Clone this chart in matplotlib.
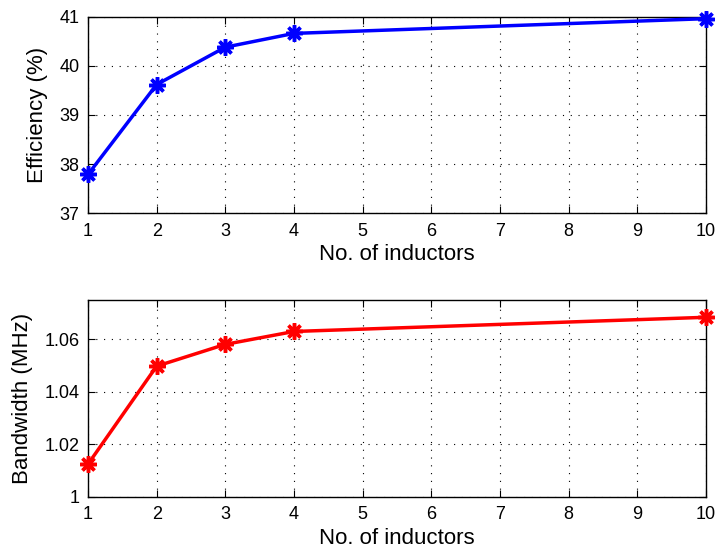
import matplotlib
matplotlib.use("Agg")
import matplotlib.pyplot as plt

inductors = [1, 2, 3, 4, 10]
efficiency = [37.79, 39.62, 40.38, 40.66, 40.96]
bandwidth = [1.0124, 1.0497, 1.0580, 1.0629, 1.0683]
x_ticks = [1, 2, 3, 4, 5, 6, 7, 8, 9, 10]
eff_ticks = [37, 38, 39, 40, 41]
bw_ticks = [1, 1.02, 1.04, 1.06]
bw_tick_labels = ["1", "1.02", "1.04", "1.06"]

plt.rcParams['font.family'] = ['Liberation Sans', 'DejaVu Sans']

fig = plt.figure(figsize=(7.16, 5.51), dpi=100)
ax1 = fig.add_axes([0.1229, 0.6129, 0.863, 0.3568])
ax2 = fig.add_axes([0.1229, 0.0985, 0.863, 0.3576])

def style(ax):
    ax.grid(True, linestyle=(0, (1, 6)), color='black', linewidth=0.8)
    ax.tick_params(direction='in', length=5, labelsize=13, top=True, right=True)
    ax.tick_params(axis='y', pad=6)
    ax.tick_params(axis='x', pad=7)
    for s in ax.spines.values():
        s.set_linewidth(1.0)
    ax.set_xlim(1, 10)
    ax.set_xticks(x_ticks)

mk = (8, 2, 0)
ax1.plot(inductors, efficiency, color='blue', linewidth=2.5, marker=mk,
         markersize=12, markeredgewidth=2.5, clip_on=False, zorder=5)
style(ax1)
ax1.set_ylim(37, 41)
ax1.set_yticks(eff_ticks)
ax1.set_xlabel('No. of inductors', fontsize=16, labelpad=3)
ax1.set_ylabel('Efficiency (%)', fontsize=16, labelpad=8)

ax2.plot(inductors, bandwidth, color='red', linewidth=2.5, marker=mk,
         markersize=12, markeredgewidth=2.5, clip_on=False, zorder=5)
style(ax2)
ax2.set_ylim(1, 1.075)
ax2.set_yticks(bw_ticks)
ax2.set_yticklabels(bw_tick_labels)
ax2.set_xlabel('No. of inductors', fontsize=16, labelpad=3)
ax2.set_ylabel('Bandwidth (MHz)', fontsize=16, labelpad=8)

fig.savefig('out.png', dpi=100)
